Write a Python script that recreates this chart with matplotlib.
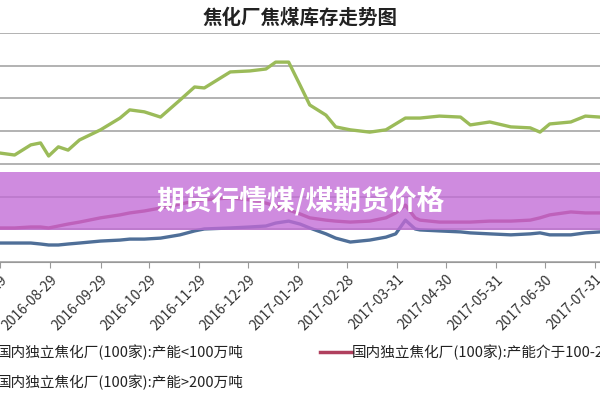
import matplotlib
matplotlib.use("Agg")
import matplotlib.pyplot as plt
from matplotlib.lines import Line2D
from matplotlib.patches import Rectangle
import pandas as pd

plt.rcParams['font.family'] = ['Noto Sans CJK SC', 'DejaVu Sans']

title = "焦化厂焦煤库存走势图"
banner = "期货行情煤/煤期货价格"
labels = ["国内独立焦化厂(100家):产能<100万吨",
          "国内独立焦化厂(100家):产能介于100-200万吨",
          "国内独立焦化厂(100家):产能>200万吨"]

dates = pd.to_datetime([
    "2016-07-29", "2016-08-07", "2016-08-17", "2016-08-23", "2016-08-28", "2016-09-03",
    "2016-09-09", "2016-09-16", "2016-09-29", "2016-10-11", "2016-10-17", "2016-10-26",
    "2016-11-05", "2016-11-17", "2016-11-26", "2016-12-02", "2016-12-18", "2016-12-30",
    "2017-01-09", "2017-01-15", "2017-01-23", "2017-01-30", "2017-02-05", "2017-02-15",
    "2017-02-21", "2017-03-02", "2017-03-14", "2017-03-24", "2017-03-30", "2017-04-05",
    "2017-04-11", "2017-04-14", "2017-04-26", "2017-05-09", "2017-05-15", "2017-05-27",
    "2017-06-09", "2017-06-21", "2017-06-27", "2017-07-03", "2017-07-16", "2017-07-25",
    "2017-08-03"])

small = [333, 327, 358, 364, 324, 352, 342, 373, 404, 440, 465, 459, 443, 495, 535, 532,
         581, 584, 590, 611, 611, 541, 480, 449, 413, 404, 397, 404, 422, 440, 440, 440,
         446, 443, 419, 428, 413, 410, 397, 422, 428, 446, 443]
middle = [104, 104, 107, 107, 104, 110, 116, 122, 135, 144, 150, 156, 165, 177, 186, 190,
          196, 190, 180, 171, 159, 147, 135, 128, 125, 122, 125, 135, 150, 174, 135, 128,
          122, 122, 122, 125, 125, 128, 135, 144, 153, 150, 150]
large = [58, 58, 58, 55, 52, 52, 55, 58, 64, 67, 70, 70, 73, 83, 95, 101,
         104, 107, 110, 119, 125, 116, 104, 86, 73, 61, 67, 76, 86, 128, 101, 98,
         95, 92, 89, 86, 83, 86, 89, 83, 83, 89, 92]

tick_dates = pd.to_datetime([
    "2016-07-29", "2016-08-29", "2016-09-29", "2016-10-29", "2016-11-29", "2016-12-29",
    "2017-01-29", "2017-02-28", "2017-03-31", "2017-04-30", "2017-05-31", "2017-06-30",
    "2017-07-31"])

colors = ["#9bbb59", "#b0405e", "#4f6f98"]

fig = plt.figure(figsize=(6, 4), dpi=100)
ax = fig.add_axes([0, 1 - 262 / 400, 1, 229 / 400])
for ys, c in zip([small, middle, large], colors):
    ax.plot(dates, ys, color=c, lw=2.4)

ax.set_ylim(0, 700)
ax.set_yticks(range(0, 701, 100))
ax.yaxis.grid(True, color="#a6a6a6", lw=1.2)
ax.set_axisbelow(True)
ax.tick_params(axis='y', left=False, labelleft=False)
ax.set_xlim(pd.Timestamp("2016-07-29"), pd.Timestamp("2017-08-03"))
ax.set_xticks(tick_dates)
ax.set_xticklabels([d.strftime("%Y-%m-%d") for d in tick_dates], rotation=45,
                   ha='right', rotation_mode='anchor', fontsize=10, color="#333333")
ax.tick_params(axis='x', length=4, color="#999999")
for s in ["top", "left", "right"]:
    ax.spines[s].set_visible(False)
ax.spines["bottom"].set_color("#999999")

fig.text(0.5, 1 - 18 / 400, title, ha='center', va='center', fontsize=14,
         fontweight='bold', color="#222222")

fig.patches.append(Rectangle((0, 1 - 230 / 400), 1, 58 / 400, transform=fig.transFigure,
                             facecolor=(0.76, 0.42, 0.84, 0.78), edgecolor='none', zorder=5))
fig.text(0.5, 1 - 201 / 400, banner, ha='center', va='center', fontsize=20,
         fontweight='bold', color='white', zorder=6)

# legend drawn by hand, partly cut at the left edge like the source
leg = [(-40 / 600, -3 / 600, 1 - 352 / 400, labels[0], colors[0]),
       (320 / 600, 352 / 600, 1 - 352 / 400, labels[1], colors[1]),
       (-40 / 600, -3 / 600, 1 - 382 / 400, labels[2], colors[2])]
for x0, xt, y, lab, c in leg:
    fig.lines.append(Line2D([x0, x0 + 32 / 600], [y, y], transform=fig.transFigure,
                            color=c, lw=2.5))
    fig.text(xt, y, lab, ha='left', va='center', fontsize=10.5, color="#222222")

fig.savefig("out.png", dpi=100)
